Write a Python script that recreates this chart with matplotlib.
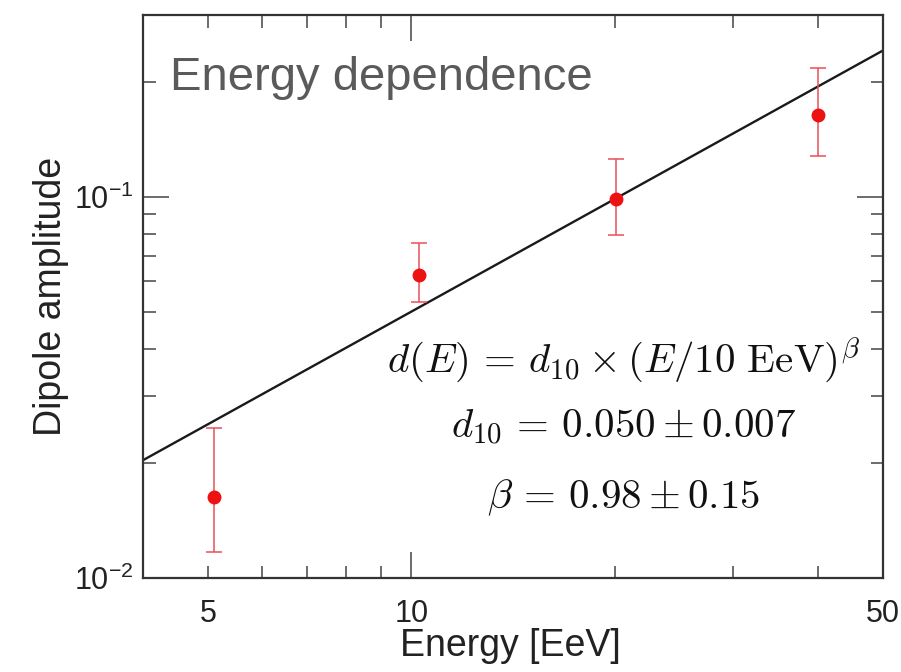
import numpy as np
import matplotlib
matplotlib.use("Agg")
import matplotlib.pyplot as plt

plt.rcParams['font.family'] = ['Liberation Sans', 'DejaVu Sans']

# Dipole amplitude per energy bin
energy = [5.1, 10.25, 20.1, 40.1]
dipole = [0.0163, 0.0624, 0.0986, 0.164]
dip_low = [0.0117, 0.0531, 0.0795, 0.1276]
dip_high = [0.0248, 0.0756, 0.1258, 0.218]

# Fit result
d10 = 0.050
beta = 0.98
fit_range = [4, 50]

minor_x = [4, 5, 6, 7, 8, 9, 20, 30, 40, 50]

fig = plt.figure(figsize=(9.01, 6.72), dpi=100)
ax = fig.add_axes([0.1587, 0.1399, 0.8213, 0.8378])
ax.set_xscale('log')
ax.set_yscale('log')

e_fit = np.array(fit_range, dtype=float)
ax.plot(e_fit, d10 * (e_fit / 10.0) ** beta, color='#1a1a1a', lw=1.7, zorder=2)

dip = np.array(dipole)
yerr = [dip - np.array(dip_low), np.array(dip_high) - dip]
ax.errorbar(energy, dipole, yerr=yerr, fmt='o', color='#ee1111', ms=9,
            ecolor='#e8505a', elinewidth=1.1, capsize=5.5, capthick=1.1, zorder=3)

ax.set_xlim(4, 50)
ax.set_ylim(0.01, 0.3)

ax.set_xticks([10], ['10'])
ax.set_xticks(minor_x, [str(v) if v in (5, 50) else '' for v in minor_x], minor=True)
ax.yaxis.set_minor_formatter(matplotlib.ticker.NullFormatter())

ax.tick_params(which='both', direction='in', top=True, right=True,
               colors='#444444', labelcolor='#222222', labelsize=22)
ax.tick_params(which='major', length=19, width=1.1)
ax.tick_params(which='minor', length=9, width=1.1)
ax.tick_params(axis='x', which='both', pad=15)
ax.tick_params(axis='y', which='both', pad=7)

for s in ax.spines.values():
    s.set_color('#333333')
    s.set_linewidth(1.6)

ax.set_xlabel('Energy [EeV]', fontsize=27, color='#222222')
ax.xaxis.set_label_coords(0.496, -0.089)
ax.set_ylabel('Dipole amplitude', fontsize=27, color='#222222')
ax.yaxis.set_label_coords(-0.1, 0.5)

ax.text(0.0365, 0.867, 'Energy dependence', transform=ax.transAxes,
        fontsize=34, color='#5a5a5a', ha='left', va='baseline')

formula = [r'$d(E)\,=\,d_{10} \times (E/10\ \mathrm{EeV})^{\beta}$',
           r'$d_{10}\,=\,0.050 \pm 0.007$',
           r'$\beta\,=\,0.98 \pm 0.15$']
for txt, y in zip(formula, [0.364, 0.249, 0.124]):
    ax.text(0.649, y, txt, transform=ax.transAxes, fontsize=29.5,
            math_fontfamily='cm', ha='center', va='baseline', color='#111111')

fig.savefig('out.png', dpi=100)
